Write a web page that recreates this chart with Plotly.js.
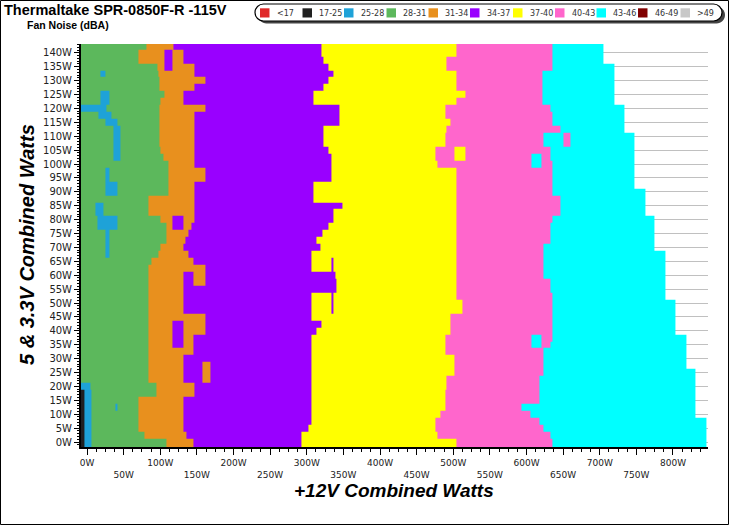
<!DOCTYPE html>
<html><head><meta charset="utf-8">
<script src="https://cdn.plot.ly/plotly-3.0.1.min.js"></script>
<style>html,body{margin:0;padding:0;background:#fff}#chart{width:729px;height:525px}</style>
</head><body><div id="chart"></div>
<script>
// ---- data (watts) ----
const rowsW = [0,2.5,5,7.5,10,12.5,15,17.5,20,22.5,25,27.5,30,32.5,35,37.5,40,42.5,45,47.5,50,52.5,55,57.5,60,62.5,65,67.5,70,72.5,75,77.5,80,82.5,85,87.5,90,92.5,95,97.5,100,102.5,105,107.5,110,112.5,115,117.5,120,122.5,125,127.5,130,132.5,135,137.5,140,142.5];
// right edge (+12V W) of each noise band, per 5 & 3.3V row
const greenEnd  = [109,79,70,70,70,70,70,95,95,84, 84,84,84,84,84,84,84,84,84,84, 84,84,84,84,84,84,88,97,100,109, 109,109,100,84,84,84,111,111,111,111, 111,104,100,99,99,99,99,99,99,100, 106,99,99,97,96,70,70,81];
const orangeEnd = [145,136,131.5,131.5,131.5,131.5,131.5,146,146,131.5, 131.5,131.5,131.5,145,145,145,161,161,161,131.5, 131.5,131.5,131.5,161,161,161,145,138,131.5,134, 138,143,146.5,146.5,146.5,146.5,146.5,146.5,161,161, 146.5,146.5,146.5,146.5,146.5,146.5,146.5,146.5,161,131.5, 131.5,146.5,161,146.5,146.5,131.5,131.5,118];
const purpleEnd = [293,293,302,307,307,307,307,307,307,307, 307,307,307,307,307,307,313,320,307,307, 307,307,340,340,339,307,307,307,318,313, 322,329,336,336,348,309,309,309,334.5,334.5, 334.5,334.5,329,322.6,322.6,322.6,345,345,345,309, 309,322.6,329,336.5,329,322.6,320.4,320.4];
const yellowEnd = [504,478,475,475,482,489,489,489,491.5,491.5, 502.4,502.4,502.4,489,489,489,495.6,495.6,495.6,512, 512,504,504,504,504,504,504,504,504,504, 504,504,504,504,504,504,504,504,504,504, 479,476.5,476.5,489,489,491.5,495.6,489,489,504, 517,504,504,504,490,490,504,504];
const pinkEnd   = [636,632,623,618,605,593.5,618,618,618,618, 623,623,623,623,632,636,636,636,636,636, 636,636,632,632,623,623,623,623,623,633.5, 633.5,633.5,636,645.7,645.7,645.7,636,636,636,636, 636,632,632,622.6,622.6,645.7,636,636,632,622, 622,622,622,622,636,636,636,636];
const cyanEnd   = [845,845,845,845,831,831,831,831,831,831, 831,818,818,818,818,818,803,803,803,803, 803,789,789,789,789,789,789,789,775,775, 775,775,775,762,762,762,762,747,747,747, 747,747,747,747,747,733,733,733,733,720, 720,720,720,720,720,705,705,705];
// isolated pockets: [x from, x to, row from, row to, class index]
const patches = [
  [-9,-2.7,0,17.5,1],[-2.7,6.4,0,17.5,2],[-9,4,20,20,2],[39.5,42,12.5,12.5,2],
  [17.7,24.6,132.5,132.5,2],[17.7,31.4,122.5,125,2],[-9,27,120,120,2],
  [15,33,117.5,117.5,2],[25,41,115,115,2],[36,45,102.5,112.5,2],
  [24.6,31.4,95,97.5,2],[24.6,42.3,90,92.5,2],[11,22,82.5,85,2],
  [13.6,42.3,77.5,80,2],[24.6,31.4,67.5,75,2],
  [105,117.4,135,140,5],[117.4,131,77.5,80,5],[131,145,57.5,60,5],[117.4,131,35,42.5,5],
  [158.4,168,22.5,27.5,4],[334,337,47.5,65,5],
  [502.4,517.4,102.5,105,6],
  [607.5,621,100,102.5,8],[607.5,621,35,37.5,8],[650,659.6,107.5,110,7]
];
const classLabels = ['<17','17-25','25-28','28-31','31-34','34-37','37-40','40-43','43-46','46-49','>49'];
const classColors = ['#e02828','#202020','#1ea2d8','#5cb85c','#e8901e','#9900ff','#ffff00','#ff66cc','#00ffff','#800000','#c8c8c8'];
const xTickVals = [0,50,100,150,200,250,300,350,400,450,500,550,600,650,700,750,800];
const yTickVals = [0,5,10,15,20,25,30,35,40,45,50,55,60,65,70,75,80,85,90,95,100,105,110,115,120,125,130,135,140];

// ---- build grid ----
const xEdges = []; for (let v = -9; v <= 848; v++) xEdges.push(v);
const xCenters = xEdges.slice(0, -1).map(v => v + 0.5);
const yEdges = [-2];
for (let i = 1; i < rowsW.length; i++) yEdges.push((rowsW[i-1] + rowsW[i]) / 2);
yEdges.push(144);
const ends = [greenEnd, orangeEnd, purpleEnd, yellowEnd, pinkEnd, cyanEnd];
const z = rowsW.map((y, i) => xCenters.map(x => {
  for (let k = 0; k < ends.length; k++) if (x < ends[k][i]) return 3 + k;
  return null;
}));
patches.forEach(([x0, x1, y0, y1, c]) => {
  rowsW.forEach((y, i) => {
    if (y >= y0 - 0.01 && y <= y1 + 0.01)
      xCenters.forEach((x, j) => { if (x >= x0 && x < x1 && z[i][j] !== null) z[i][j] = c; });
  });
});
const nC = classColors.length;
const colorscale = [];
classColors.forEach((c, k) => { colorscale.push([k / nC, c]); colorscale.push([(k + 1) / nC, c]); });

// ---- geometry helpers (pixel -> paper) ----
const W = 729, H = 525, ML = 81, MR = 21, MT = 44, MB = 78;
const PW = W - ML - MR, PH = H - MT - MB;
const px = x => (x - ML) / PW;
const py = y => (H - MB - y) / PH;
function pill(x0, y0, x1, y1) {
  const r = (y1 - y0) / 2, k = 0.5523 * r;
  const P = (x, y) => px(x).toFixed(5) + ',' + py(y).toFixed(5);
  return 'M' + P(x0 + r, y0) + ' L' + P(x1 - r, y0) +
    ' C' + P(x1 - r + k, y0) + ' ' + P(x1, y0 + r - k) + ' ' + P(x1, y0 + r) +
    ' C' + P(x1, y0 + r + k) + ' ' + P(x1 - r + k, y1) + ' ' + P(x1 - r, y1) +
    ' L' + P(x0 + r, y1) +
    ' C' + P(x0 + r - k, y1) + ' ' + P(x0, y0 + r + k) + ' ' + P(x0, y0 + r) +
    ' C' + P(x0, y0 + r - k) + ' ' + P(x0 + r - k, y0) + ' ' + P(x0 + r, y0) + ' Z';
}

const shapes = [
  {type:'rect', xref:'paper', yref:'paper', x0:px(0.5), x1:px(728.5), y0:py(524.5), y1:py(0.5), line:{color:'#000', width:1}},
  {type:'path', xref:'paper', yref:'paper', path:pill(258, 6.5, 725, 23.5), fillcolor:'#444', line:{width:0}},
  {type:'path', xref:'paper', yref:'paper', path:pill(255, 4, 722, 21), fillcolor:'#fff', line:{color:'#000', width:1.2}}
];
const legSqX = [260, 302.5, 344, 386.5, 428.5, 470, 513, 555, 596.5, 638, 680.5];
const annotations = [];
classColors.forEach((c, k) => {
  shapes.push({type:'rect', xref:'paper', yref:'paper', x0:px(legSqX[k]), x1:px(legSqX[k] + 9.5), y0:py(17.5), y1:py(8.3), fillcolor:c, line:{width:0}});
  annotations.push({xref:'paper', yref:'paper', x:px(legSqX[k] + 15.5), y:py(13), xanchor:'left', yanchor:'middle', showarrow:false,
    text:classLabels[k], font:{family:'DejaVu Sans', size:8, color:'#333'}, borderpad:0});
});
annotations.push(
  {xref:'paper', yref:'paper', x:px(2), y:py(10.5), xanchor:'left', yanchor:'middle', showarrow:false,
   text:'<b>Thermaltake SPR-0850F-R -115V</b>', font:{family:'Liberation Sans', size:14.5, color:'#000'}},
  {xref:'paper', yref:'paper', x:px(25), y:py(24.5), xanchor:'left', yanchor:'middle', showarrow:false,
   text:'<b>Fan Noise (dBA)</b>', font:{family:'Liberation Sans', size:10.5, color:'#000'}},
  {xref:'paper', yref:'paper', x:px(394), y:py(491), xanchor:'center', yanchor:'middle', showarrow:false,
   text:'<b><i>+12V Combined Watts</i></b>', font:{family:'Liberation Sans', size:19, color:'#000'}},
  {xref:'paper', yref:'paper', x:px(27), y:py(245), xanchor:'center', yanchor:'middle', showarrow:false, textangle:-90,
   text:'<b><i>5 &amp; 3.3V Combined Watts</i></b>', font:{family:'Liberation Sans', size:20, color:'#000'}}
);

const trace = {
  type:'heatmap', x:xEdges, y:yEdges, z:z, zmin:-0.5, zmax:nC - 0.5,
  colorscale:colorscale, showscale:false, zsmooth:false, hoverinfo:'skip'
};

const layout = {
  width:W, height:H, margin:{l:ML, r:MR, t:MT, b:MB},
  paper_bgcolor:'#fff', plot_bgcolor:'#fff', showlegend:false,
  xaxis:{range:[-8.2, 847.8], tickmode:'array', tickvals:xTickVals,
    ticktext:xTickVals.map(v => (v % 100 === 0 ? '' : '<br>') + v + 'W'),
    ticks:'outside', ticklen:6, tickcolor:'#000', tickwidth:1, tickfont:{family:'DejaVu Sans', size:9, color:'#222'},
    minor:{tickmode:'linear', tick0:0, dtick:12.5, ticks:'outside', ticklen:3, tickcolor:'#000', showgrid:false},
    showline:true, linecolor:'#000', linewidth:2, showgrid:false, zeroline:false, fixedrange:true},
  yaxis:{range:[-1.8, 143.17], tickmode:'array', tickvals:yTickVals, ticktext:yTickVals.map(v => v + 'W'),
    ticks:'outside', ticklen:5, tickcolor:'#000', tickwidth:1, tickfont:{family:'DejaVu Sans', size:10, color:'#222'},
    minor:{tickmode:'linear', tick0:0, dtick:1, ticks:'outside', ticklen:2, tickcolor:'#000', showgrid:false},
    showline:true, linecolor:'#000', linewidth:2, showgrid:true, gridcolor:'#c0c0c0', gridwidth:1, zeroline:false, fixedrange:true},
  shapes:shapes, annotations:annotations
};
Plotly.newPlot('chart', [trace], layout, {staticPlot:true, displayModeBar:false});
</script>
</body></html>
